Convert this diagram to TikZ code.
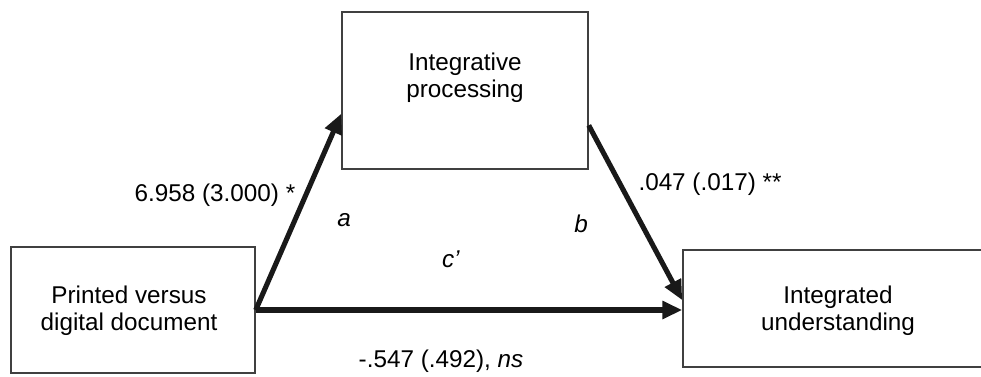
\documentclass[tikz,border=0pt]{standalone}
\usepackage{fontspec}
\setmainfont{Liberation Sans}
\usetikzlibrary{arrows.meta,calc}
\newcommand\pxu{0.75pt}
\tikzset{
  box/.style={draw=black!75, line width=1.1pt, fill=none, inner sep=0pt},
  lbl/.style={font=\fontsize{18.2}{20.3}\selectfont, inner sep=0pt, align=center},
  path/.style={line width=3.8pt, draw=black!90, -{Triangle[length=15pt,width=13pt]}, shorten >=0pt}
}
\begin{document}
\begin{tikzpicture}[x=0.75pt,y=-0.75pt]
\useasboundingbox (0,0) rectangle (981,376);
% boxes
\node[box, minimum width={244*\pxu}, minimum height={126*\pxu}] (pv) at (133,310) {};
\node[lbl] (pvt) at (129,311) {Printed versus\\digital document};
\node[box, minimum width={246*\pxu}, minimum height={157*\pxu}] (ip) at (465,90.5) {};
\node[lbl] (ipt) at (465,78) {Integrative\\processing};
\node[box, minimum width={340*\pxu}, minimum height={117*\pxu}] (iu) at (853,308.5) {};
\node[lbl] (iut) at (838,311) {Integrated\\understanding};
% paths
\draw[path] (pv.east) -- ($(ip.north west)!0.646!(ip.south west)$);
\draw[path] ($(ip.north east)!0.72!(ip.south east)$) -- ($(iu.north west)!0.43!(iu.south west)$);
\draw[path] (pv.east) -- (iu.west |- pv.east);
% labels
\node[lbl] (la) at (215,195) {6.958 (3.000) *};
\node[lbl] (a) at (344,220) {\textit{a}};
\node[lbl] (b) at (581,224) {\textit{b}};
\node[lbl] (c) at (451,259) {\textit{c’}};
\node[lbl] (lb) at (710,184) {.047 (.017) **};
\node[lbl] (lc) at (441,361) {-.547 (.492), \textit{ns}};
\end{tikzpicture}
\end{document}
